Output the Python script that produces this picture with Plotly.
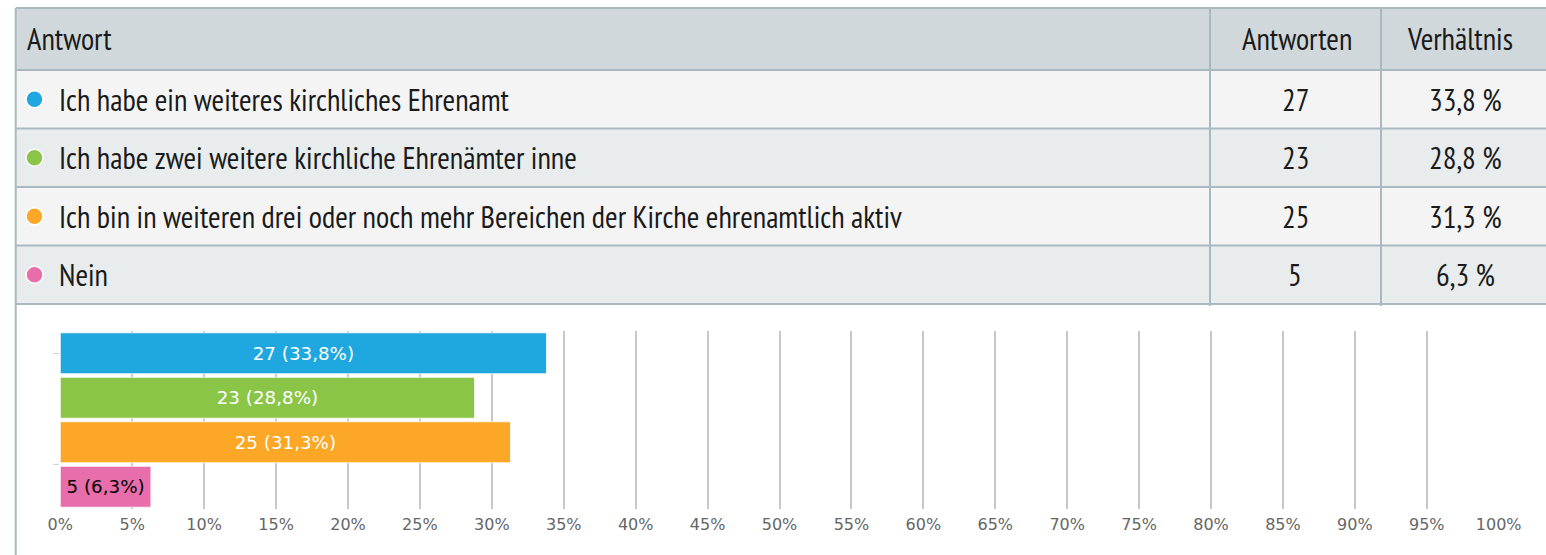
import plotly.graph_objects as go

# ---------------- data ----------------
answers = [
    "Ich habe ein weiteres kirchliches Ehrenamt",
    "Ich habe zwei weitere kirchliche Ehrenämter inne",
    "Ich bin in weiteren drei oder noch mehr Bereichen der Kirche ehrenamtlich aktiv",
    "Nein",
]
counts = [27, 23, 25, 5]
ratios = [33.8, 28.8, 31.3, 6.3]
colors = ["#1FA8E0", "#8BC547", "#FCA826", "#E76DAB"]
label_colors = ["#FFFFFF", "#FFFFFF", "#FFFFFF", "#000000"]
headers = ["Antwort", "Antworten", "Verhältnis"]
tick_vals = [0, 5, 10, 15, 20, 25, 30, 35, 40, 45, 50, 55, 60, 65, 70, 75, 80, 85, 90, 95, 100]

# ---------------- layout constants ----------------
W, H = 1546, 555
def px(x):
    return x / W
def py(y):
    return 1 - y / H

TABLE_FONT = "PT Sans Narrow, Liberation Sans Narrow, Arial Narrow, DejaVu Sans Condensed, Roboto Condensed, sans-serif"
CHART_FONT = "DejaVu Sans, Verdana, sans-serif"
BORDER = "#AAB8BF"
HEADER_BG = "#D0D8DC"
ROW_BG = ["#F4F4F4", "#E8ECED"]
TEXT_COL = "#1A1A1A"
TFS = 30.5

table_top = 8
header_bottom = 70
row_h = 58.5
col1_x = 1210
col2_x = 1381
table_right = 1546
left_x = 15.7
count_cx = 1295
ratio_cx = 1465

fig = go.Figure()

bar_labels = [f"{c} ({str(r).replace('.', ',')}%)" for c, r in zip(counts, ratios)]
fig.add_trace(go.Bar(
    x=ratios,
    y=list(range(len(answers))),
    orientation="h",
    marker=dict(color=colors, line=dict(color="rgba(255,255,255,0.8)", width=1)),
    text=bar_labels,
    textposition="inside",
    insidetextanchor="middle",
    textangle=0,
    textfont=dict(family=CHART_FONT, size=18.3, color=label_colors),
    hoverinfo="skip",
    width=0.92,
))

shapes = []
annotations = []

# header background
shapes.append(dict(type="rect", xref="paper", yref="paper",
                   x0=px(left_x), x1=px(table_right), y0=py(header_bottom), y1=py(table_top),
                   fillcolor=HEADER_BG, line=dict(width=0), layer="below"))
# rows
row_edges = [header_bottom + i * row_h for i in range(len(answers) + 1)]
for i, ans in enumerate(answers):
    y0, y1 = row_edges[i], row_edges[i + 1]
    cy = (y0 + y1) / 2
    shapes.append(dict(type="rect", xref="paper", yref="paper",
                       x0=px(left_x), x1=px(table_right), y0=py(y1), y1=py(y0),
                       fillcolor=ROW_BG[i % 2], line=dict(width=0), layer="below"))
    shapes.append(dict(type="circle", xref="paper", yref="paper",
                       x0=px(34.5 - 8.5), x1=px(34.5 + 8.5), y0=py(cy + 8.5), y1=py(cy - 8.5),
                       fillcolor=colors[i], line=dict(color="white", width=1.5)))
    annotations.append(dict(xref="paper", yref="paper", x=px(57), y=py(cy),
                            xanchor="left", yanchor="middle", showarrow=False, text=ans,
                            font=dict(family=TABLE_FONT, size=TFS, color=TEXT_COL)))
    annotations.append(dict(xref="paper", yref="paper", x=px(count_cx), y=py(cy),
                            xanchor="center", yanchor="middle", showarrow=False, text=str(counts[i]),
                            font=dict(family=TABLE_FONT, size=TFS, color=TEXT_COL)))
    annotations.append(dict(xref="paper", yref="paper", x=px(ratio_cx), y=py(cy),
                            xanchor="center", yanchor="middle", showarrow=False,
                            text=str(ratios[i]).replace('.', ',') + " %",
                            font=dict(family=TABLE_FONT, size=TFS, color=TEXT_COL)))

# header texts
hcy = (table_top + header_bottom) / 2
annotations.append(dict(xref="paper", yref="paper", x=px(25), y=py(hcy), xanchor="left", yanchor="middle",
                        showarrow=False, text=headers[0], font=dict(family=TABLE_FONT, size=TFS, color=TEXT_COL)))
annotations.append(dict(xref="paper", yref="paper", x=px(1296.5), y=py(hcy), xanchor="center", yanchor="middle",
                        showarrow=False, text=headers[1], font=dict(family=TABLE_FONT, size=TFS, color=TEXT_COL)))
annotations.append(dict(xref="paper", yref="paper", x=px(1460), y=py(hcy), xanchor="center", yanchor="middle",
                        showarrow=False, text=headers[2], font=dict(family=TABLE_FONT, size=TFS, color=TEXT_COL)))

# horizontal borders
for yb in [table_top] + row_edges:
    shapes.append(dict(type="line", xref="paper", yref="paper", x0=px(left_x), x1=px(table_right),
                       y0=py(yb), y1=py(yb), line=dict(color=BORDER, width=2)))
# column separators
for xc in [col1_x, col2_x]:
    shapes.append(dict(type="line", xref="paper", yref="paper", x0=px(xc), x1=px(xc),
                       y0=py(table_top), y1=py(row_edges[-1] + 2), line=dict(color=BORDER, width=2)))
# left border running down the whole page
shapes.append(dict(type="line", xref="paper", yref="paper", x0=px(left_x), x1=px(left_x),
                   y0=py(table_top), y1=0, line=dict(color=BORDER, width=2)))

plot_left, plot_right = 60.3, 1498.7
plot_top, plot_bottom = 331, 509

fig.update_layout(
    width=W, height=H,
    margin=dict(l=0, r=0, t=0, b=0, pad=0),
    autosize=False,
    paper_bgcolor="white", plot_bgcolor="white",
    showlegend=False,
    shapes=shapes,
    annotations=annotations,
    bargap=0.08,
    xaxis=dict(
        domain=[px(plot_left), px(plot_right)],
        range=[0, 100],
        tickvals=tick_vals,
        ticktext=[f"{v}%" for v in tick_vals],
        showgrid=True, gridcolor="#C8C8C8", gridwidth=1.5,
        zeroline=False, showline=False, ticks="",
        tickfont=dict(family=CHART_FONT, size=16, color="#666666"),
        ticklabelstandoff=4,
        automargin=False,
        fixedrange=True,
    ),
    yaxis=dict(
        domain=[py(plot_bottom), py(plot_top)],
        range=[3.5, -0.5],
        tickvals=[0, 2.5],
        ticktext=["", ""],
        ticks="outside", ticklen=6, tickcolor="#CCD6EB", tickwidth=1,
        showgrid=False, zeroline=False, showline=False,
        automargin=False,
        fixedrange=True,
    ),
)

fig.write_html(
    "out.html",
    config={"displayModeBar": False},
    post_script="document.body.style.margin='0';document.body.style.overflow='hidden';",
)
